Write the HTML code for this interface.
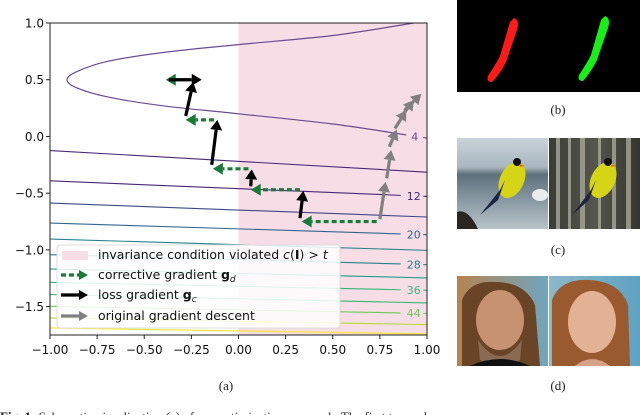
<!DOCTYPE html>
<html><head><meta charset="utf-8"><style>
html,body{margin:0;padding:0;background:#fff;}
svg{display:block;}
.tk{font-family:"DejaVu Sans","Liberation Sans",sans-serif;font-size:12px;fill:#111;}
.lg{font-family:"DejaVu Sans","Liberation Sans",sans-serif;font-size:12.5px;fill:#111;}
.cap{font-family:"Liberation Serif",serif;font-size:13px;fill:#222;}
</style></head><body>
<svg id="fig" width="640" height="415" viewBox="0 0 640 415">
  <g id="chart"></g>
  <text class="cap" x="226" y="390" text-anchor="middle">(a)</text>

  <g>
    <rect x="457" y="0" width="183" height="92" fill="#000"/>
    <path d="M514,18 Q520,20 517,30 L506,62 Q500,74 492,82 Q486,82 488,76 Q496,64 500,56 L510,22 Z" fill="#ff1a1a"/>
    <path d="M605,16 Q611,18 608,28 L597,60 Q591,72 583,81 Q577,81 579,75 Q587,63 591,55 L601,20 Z" fill="#18ee18"/>
  </g>
  <text class="cap" x="558" y="114" text-anchor="middle">(b)</text>

  <defs>
    <linearGradient id="sea" x1="0" y1="0" x2="0" y2="1">
      <stop offset="0" stop-color="#c9d2d8"/><stop offset="0.32" stop-color="#aab7c0"/>
      <stop offset="0.4" stop-color="#5d707c"/><stop offset="0.7" stop-color="#8b9ba5"/><stop offset="1" stop-color="#b8c2c8"/>
    </linearGradient>
    <linearGradient id="bam" x1="0" y1="0" x2="1" y2="0">
      <stop offset="0" stop-color="#3a3c36"/><stop offset="0.5" stop-color="#55574e"/><stop offset="1" stop-color="#34362f"/>
    </linearGradient>
    <linearGradient id="bg1" x1="0" y1="0" x2="1" y2="0">
      <stop offset="0" stop-color="#b5844f"/><stop offset="1" stop-color="#6fa6bf"/>
    </linearGradient>
    <linearGradient id="bg2" x1="0" y1="0" x2="1" y2="0">
      <stop offset="0" stop-color="#8bb8c8"/><stop offset="1" stop-color="#5fa2c2"/>
    </linearGradient>
  </defs>
  <g>
    <rect x="457" y="138" width="91" height="91" fill="url(#sea)"/>
    <path d="M457,229 L457,212 Q468,208 478,229 Z" fill="#2a2622"/>
    <ellipse cx="540" cy="195" rx="8" ry="6" fill="#e8eef0"/>
    <rect x="549" y="138" width="91" height="91" fill="url(#bam)"/>
    <g fill="#a8a89c" opacity="0.8">
      <rect x="556" y="138" width="4" height="91"/><rect x="568" y="138" width="3" height="91"/>
      <rect x="580" y="138" width="5" height="91"/><rect x="598" y="138" width="3" height="91"/>
      <rect x="612" y="138" width="4" height="91"/><rect x="626" y="138" width="5" height="91"/>
    </g>
    <g>
      <ellipse cx="512" cy="180" rx="12" ry="19" transform="rotate(25 512 180)" fill="#d6d417"/>
      <path d="M505,180 L498,200 L480,215 L500,190 Z" fill="#1e2440"/>
      <circle cx="517" cy="162" r="4" fill="#111"/><path d="M520,164 L525,166 L520,167Z" fill="#e07020"/>
    </g>
    <g>
      <ellipse cx="603" cy="180" rx="12" ry="19" transform="rotate(25 603 180)" fill="#d6d417"/>
      <path d="M596,180 L589,200 L572,215 L591,190 Z" fill="#1e2440"/>
      <circle cx="608" cy="162" r="4" fill="#111"/><path d="M611,164 L616,166 L611,167Z" fill="#e07020"/>
    </g>
  </g>
  <text class="cap" x="558" y="254" text-anchor="middle">(c)</text>

  <g>
    <rect x="457" y="276" width="91" height="90" fill="url(#bg1)"/>
    <path d="M462,366 L462,300 Q470,280 495,282 Q525,282 535,305 L540,366 Z" fill="#6a4426"/>
    <ellipse cx="500" cy="320" rx="24" ry="30" fill="#c79272"/>
    <path d="M478,340 Q500,372 522,340 L520,360 Q500,372 480,360Z" fill="#8a6a52"/>
    <path d="M470,366 Q500,352 530,366Z" fill="#111"/>
    <rect x="549" y="276" width="91" height="90" fill="url(#bg2)"/>
    <path d="M552,366 L552,300 Q560,278 590,280 Q620,282 628,305 L630,366 Z" fill="#9a5a30"/>
    <ellipse cx="592" cy="322" rx="24" ry="31" fill="#e3b193"/>
    <path d="M575,366 Q592,352 610,366Z" fill="#d8a284"/>
  </g>
  <text class="cap" x="558" y="390" text-anchor="middle">(d)</text>

  <text class="cap" x="0" y="421" font-size="15"><tspan font-weight="bold">Fig. 1:</tspan> Schematic visualization (a) of our optimization approach. The first two columns</text>
</svg>
<script>
// ---- chart data ----
const xTicks = [-1.00,-0.75,-0.50,-0.25,0.00,0.25,0.50,0.75,1.00];
const xTickLabels = ["\u22121.00","\u22120.75","\u22120.50","\u22120.25","0.00","0.25","0.50","0.75","1.00"];
const yTicks = [1.0,0.5,0.0,-0.5,-1.0,-1.5];
const yTickLabels = ["1.0","0.5","0.0","\u22120.5","\u22121.0","\u22121.5"];
// level-4 curved contour points [x,y]
const curveX = [0.93,0.5,0.0,-0.4,-0.7,-0.86,-0.91,-0.86,-0.7,-0.4,0.0,0.5,0.89];
const curveY = [1.0,0.89,0.81,0.74,0.66,0.57,0.5,0.43,0.35,0.27,0.2,0.11,0.014];
const curveTailX = [0.98,1.0];
const curveTailY = [-0.01,-0.015];
// straight contours: levels, left y (x=-1), right y (x=1)
const lineLevels = [8,12,16,20,24,28,32,36,40,44,48,52];
const lineLeftY = [-0.124,-0.391,-0.587,-0.763,-0.904,-1.042,-1.168,-1.286,-1.394,-1.497,-1.6,-1.688];
const lineRightY = [-0.315,-0.529,-0.71,-0.866,-1.004,-1.13,-1.247,-1.356,-1.467,-1.56,-1.658,-1.74];
const labeledLevels = [4,12,20,28,36,44];
// arrows: [x0,y0,x1,y1]
const grayArrows = [[0.75,-0.73,0.78,-0.40],[0.786,-0.37,0.81,-0.12],[0.80,-0.09,0.84,0.06],[0.83,0.07,0.89,0.23],[0.857,0.16,0.93,0.32],[0.88,0.23,0.97,0.375]];
const greenArrows = [[0.733,-0.75,0.335,-0.75],[0.326,-0.47,0.065,-0.47],[0.053,-0.285,-0.136,-0.285],[-0.13,0.146,-0.28,0.146],[-0.27,0.5,-0.386,0.5]];
const blackArrows = [[0.326,-0.72,0.344,-0.48],[0.065,-0.44,0.07,-0.29],[-0.142,-0.25,-0.112,0.146],[-0.28,0.18,-0.24,0.48],[-0.37,0.5,-0.195,0.5]];

const L=50,R=427,T=23,B=335, XMIN=-1,XMAX=1,YMIN=-1.75,YMAX=1.0;
const sx=v=>L+(v-XMIN)/(XMAX-XMIN)*(R-L);
const sy=v=>T+(YMAX-v)/(YMAX-YMIN)*(B-T);
const NS="http://www.w3.org/2000/svg";
const g=document.getElementById('chart');
function mk(tag,attrs,parent){const e=document.createElementNS(NS,tag);for(const k in attrs)e.setAttribute(k,attrs[k]);(parent||g).appendChild(e);return e;}
const vir=["#440154","#482878","#3e4989","#31688e","#26828e","#1f9e89","#35b779","#6ece58","#b5de2b","#fde725"];
function col(lv){const t=Math.min(1,Math.max(0,(lv-4)/50));const i=Math.round(t*(vir.length-1));return vir[i];}
function smooth(pts){
  let d='M'+pts[0][0].toFixed(1)+','+pts[0][1].toFixed(1);
  for(let i=0;i<pts.length-1;i++){
    const p0=pts[Math.max(0,i-1)],p1=pts[i],p2=pts[i+1],p3=pts[Math.min(pts.length-1,i+2)];
    const c1=[p1[0]+(p2[0]-p0[0])/6,p1[1]+(p2[1]-p0[1])/6],c2=[p2[0]-(p3[0]-p1[0])/6,p2[1]-(p3[1]-p1[1])/6];
    d+=`C${c1[0].toFixed(1)},${c1[1].toFixed(1)} ${c2[0].toFixed(1)},${c2[1].toFixed(1)} ${p2[0].toFixed(1)},${p2[1].toFixed(1)}`;
  }
  return d;
}

const defs=mk('defs',{});
const cp=mk('clipPath',{id:'pc'},defs);mk('rect',{x:L,y:T,width:R-L,height:B-T},cp);
const pink=mk('rect',{x:sx(0),y:T,width:sx(1)-sx(0),height:B-T,fill:'#f6dde6'});


const cg=mk('g',{'clip-path':'url(#pc)'});



const cpts=curveX.map((x,i)=>[sx(x),sy(curveY[i])]);
const cv=mk('path',{d:smooth(cpts),fill:'none',stroke:'#6a4c93','stroke-width':1.2},cg);


mk('line',{x1:sx(curveTailX[0]),y1:sy(curveTailY[0]),x2:sx(curveTailX[1]),y2:sy(curveTailY[1]),stroke:'#6a4c93','stroke-width':1.2},cg);

lineLevels.forEach((lv,i)=>{
  const labeled=labeledLevels.includes(lv);
  const yAt=x=>lineLeftY[i]+(lineRightY[i]-lineLeftY[i])*(x-XMIN)/(XMAX-XMIN);
  const xe=labeled?0.86:XMAX;
  const ln=mk('line',{x1:sx(XMIN),y1:sy(yAt(XMIN)),x2:sx(xe),y2:sy(yAt(xe)),stroke:col(lv),'stroke-width':1.1},cg);
  
  
  if(labeled){
    const t=mk('text',{x:sx(0.93),y:sy(yAt(0.93))+4,'text-anchor':'middle',class:'tk',style:'fill:'+col(lv)+';font-size:11px'});
    t.textContent=lv;
    
    
    mk('line',{x1:sx(0.98),y1:sy(yAt(0.98)),x2:sx(1),y2:sy(yAt(1)),stroke:col(lv),'stroke-width':1.1},cg);
  }
});
const t4=mk('text',{x:sx(0.935),y:sy(0.0)+4,'text-anchor':'middle',class:'tk',style:'fill:#6a4c93;font-size:11px'});
t4.textContent='4';



function arrow(a,color,dash,name){
  const x0=sx(a[0]),y0=sy(a[1]),x1=sx(a[2]),y1=sy(a[3]);
  const dx=x1-x0,dy=y1-y0,len=Math.hypot(dx,dy),ux=dx/len,uy=dy/len;
  const hl=10,hw=6;const bx=x1-ux*hl,by=y1-uy*hl;
  const grp=mk('g',{});
  
  
  const at={x1:x0,y1:y0,x2:bx,y2:by,stroke:color,'stroke-width':3.2};
  if(dash)at['stroke-dasharray']='5,3';
  mk('line',at,grp);
  mk('polygon',{points:`${x1},${y1} ${bx-uy*hw},${by+ux*hw} ${bx+uy*hw},${by-ux*hw}`,fill:color},grp);
}
grayArrows.forEach((a,i)=>arrow(a,'#808080',false,'gradient-descent-arrow-'+(i+1)));
greenArrows.forEach((a,i)=>arrow(a,'#1a7a3a',true,'corrective-arrow-'+(i+1)));
blackArrows.forEach((a,i)=>arrow(a,'#000',false,'loss-arrow-'+(i+1)));

const fr=mk('rect',{x:L,y:T,width:R-L,height:B-T,fill:'none',stroke:'#222','stroke-width':1});


xTicks.forEach((v,i)=>{
  mk('line',{x1:sx(v),y1:B,x2:sx(v),y2:B+4,stroke:'#222'});
  const t=mk('text',{x:sx(v),y:B+19,'text-anchor':'middle',class:'tk'});t.textContent=xTickLabels[i];
  
  
});
yTicks.forEach((v,i)=>{
  mk('line',{x1:L-4,y1:sy(v),x2:L,y2:sy(v),stroke:'#222'});
  const t=mk('text',{x:L-6,y:sy(v)+4.5,'text-anchor':'end',class:'tk'});t.textContent=yTickLabels[i];
  
  
});

const lg=mk('g',{});


mk('rect',{x:57,y:245,width:283,height:83,rx:3,fill:'#fff','fill-opacity':0.85,stroke:'#ddd'},lg);
mk('rect',{x:62,y:251,width:26,height:9,fill:'#f6dde6'},lg);
const ly=[259,279,299,320];
function legArrow(y,color,dash){
  const at={x1:61,y1:y,x2:80,y2:y,stroke:color,'stroke-width':3.2};if(dash)at['stroke-dasharray']='5,3';
  mk('line',at,lg);mk('polygon',{points:`88,${y} 79,${y-5} 79,${y+5}`,fill:color},lg);
}
legArrow(ly[1]-4,'#1a7a3a',true);legArrow(ly[2]-4,'#000',false);legArrow(ly[3]-4,'#808080',false);
const e1=mk('text',{x:98,y:ly[0],class:'lg'},lg);
e1.innerHTML='invariance condition violated <tspan font-style="italic">c</tspan>(<tspan font-weight="bold">I</tspan>) &gt; <tspan font-style="italic">t</tspan>';


const e2=mk('text',{x:98,y:ly[1],class:'lg'},lg);
e2.innerHTML='corrective gradient <tspan font-weight="bold">g</tspan><tspan font-size="9" font-style="italic" dy="3">d</tspan>';


const e3=mk('text',{x:98,y:ly[2],class:'lg'},lg);
e3.innerHTML='loss gradient <tspan font-weight="bold">g</tspan><tspan font-size="9" font-style="italic" dy="3">c</tspan>';


const e4=mk('text',{x:98,y:ly[3],class:'lg'},lg);
e4.textContent='original gradient descent';


</script>
</body></html>
